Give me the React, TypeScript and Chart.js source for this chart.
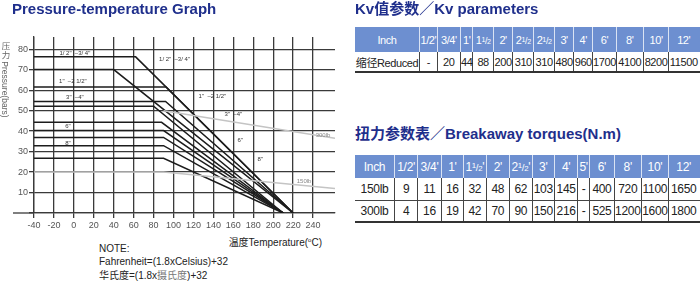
import React, { useEffect, useRef } from "react";
import { Chart, registerables } from "chart.js";

Chart.register(...registerables);

const FONT = '"Liberation Sans", Arial, "Noto Sans CJK SC", sans-serif';
const NAVY = "#1f2f8c";

// ---- Pressure-temperature graph data ----
const curvePressure = [76.3, 70.1, 61.6, 54.5, 52.2, 44.3, 40.3, 36.9, 32.9, 26.7];
const curveKneeTemp = [62, 40, 92.5, 92, 80, 88, 90, 90, 90, 90];
const curveZeroTemp = [220, 220, 220, 220, 210, 210, 210, 210, 210, 210];
const curveStartTemp = -40;

const class300Temps = [90, 262];
const class300Pressures = [50, 36.5];
const class150Temps = [-40, 90, 262];
const class150Pressures = [20, 20, 12];

const curveLabelTexts = ['1/ 2"  \u20133/ 4"', '1"  \u20132 1/2"', '3"  \u20134"', '6"', '8"', '1/ 2"  \u20133/ 4"', '1"  \u20132 1/2"', '3"  \u20134"', '6"', '8"', '300lb', '150lb'];
const curveLabelTemps = [1, -1, 1, -6, -6, 101, 139, 160, 167, 187, 250, 231];
const curveLabelPressures = [78.2, 64.4, 56.6, 42.4, 34.2, 75.2, 57.1, 48.3, 35.5, 26.3, 38, 15.6];
const curveLabelGray = [false, false, false, false, false, false, false, false, false, false, true, true];

// ---- Kv table ----
const kvSizes = ["1/2'", "3/4'", "1'", "1½", "2'", "2½", "2½", "3'", "4'", "6'", "8'", "10'", "12'"];
const kvReduced: (number | null)[] = [null, 20, 44, 88, 200, 310, 310, 480, 960, 1700, 4100, 8200, 11500];

// ---- Torque table ----
const torqueSizes = ["1/2'", "3/4'", "1'", "1½'", "2'", "2½'", "3'", "4'", "5'", "6'", "8'", "10'", "12'"];
const torque150: (number | null)[] = [9, 11, 16, 32, 48, 62, 103, 145, null, 400, 720, 1100, 1650];
const torque300: (number | null)[] = [4, 16, 19, 42, 70, 90, 150, 216, null, 525, 1200, 1600, 1800];

const kvColWidths = [65, 17.7, 23.3, 12.3, 20.7, 19.3, 21, 20.7, 19.3, 19, 23.4, 27.3, 25.3, 29];
const torqueColWidths = [40, 23.3, 23.4, 22.3, 22.7, 23.3, 22.7, 22.3, 23.3, 11.7, 25, 26.7, 27.6, 29];

function renderSize(label: string) {
  if (label.includes("½")) {
    const [whole, rest] = label.split("½");
    return (
      <span>
        {whole}
        <span style={{ fontSize: "0.65em", verticalAlign: "0.35em" }}>1</span>
        <span style={{ fontSize: "0.8em" }}>/</span>
        <span style={{ fontSize: "0.65em" }}>2</span>
        {rest}
      </span>
    );
  }
  return label;
}

const cellBase: React.CSSProperties = {
  boxSizing: "border-box",
  display: "flex",
  alignItems: "center",
  justifyContent: "center",
  whiteSpace: "nowrap",
  overflow: "visible",
  flex: "none",
};

function Row(props: { cells: React.ReactNode[]; widths: number[]; height: number; header?: boolean; bottom?: string; fontSize: number; spacing: number }) {
  const { cells, widths, height, header, bottom, fontSize, spacing } = props;
  return (
    <div style={{ display: "flex", height, borderBottom: bottom, boxSizing: "border-box", background: header ? "#6d8fd0" : "#fff" }}>
      {cells.map((c, i) => (
        <div
          key={i}
          style={{
            ...cellBase,
            width: widths[i],
            height: "100%",
            color: header ? "#fff" : "#222",
            fontSize,
            letterSpacing: spacing,
            borderRight: i < cells.length - 1 ? (header ? "1px solid rgba(255,255,255,0.75)" : "1px solid #444") : undefined,
          }}
        >
          {c}
        </div>
      ))}
    </div>
  );
}

const fmt = (v: number | null) => (v === null ? "-" : String(v));

function PTChart() {
  const ref = useRef<HTMLCanvasElement | null>(null);
  useEffect(() => {
    if (!ref.current) return;
    const curveSets = curvePressure.map((p, i) => ({
      data: [
        { x: curveStartTemp, y: p },
        { x: curveKneeTemp[i], y: p },
        { x: curveZeroTemp[i], y: 0 },
      ],
      borderColor: "#1c1c1c",
      borderWidth: 1.5,
      pointRadius: 0,
      fill: false,
    }));
    const graySets = [
      { data: class300Temps.map((t, i) => ({ x: t, y: class300Pressures[i] })) },
      { data: class150Temps.map((t, i) => ({ x: t, y: class150Pressures[i] })) },
    ].map((d) => ({ ...d, borderColor: "#c4c4c4", borderWidth: 1.5, pointRadius: 0, fill: false }));

    const labelPlugin = {
      id: "curveLabels",
      afterDatasetsDraw(chart: any) {
        const { ctx } = chart;
        const x = chart.scales.x;
        const y = chart.scales.y;
        ctx.save();
        ctx.strokeStyle = "#3a3a3a";
        ctx.lineWidth = 1.3;
        const y0 = y.getPixelForValue(0);
        ctx.beginPath();
        ctx.moveTo(x.left - 21, y0);
        ctx.lineTo(x.left, y0);
        ctx.stroke();
        ctx.font = '6px "Liberation Sans", Arial, sans-serif';
        ctx.textAlign = "center";
        ctx.textBaseline = "middle";
        curveLabelTexts.forEach((t, i) => {
          ctx.fillStyle = curveLabelGray[i] ? "#888" : "#333";
          ctx.fillText(t, x.getPixelForValue(curveLabelTemps[i]), y.getPixelForValue(curveLabelPressures[i]));
        });
        ctx.restore();
      },
    };

    const chart = new Chart(ref.current, {
      type: "line",
      data: { datasets: [...graySets, ...curveSets] as any },
      options: {
        animation: false,
        responsive: false,
        maintainAspectRatio: false,
        layout: { padding: { left: 0, right: 10, top: 37, bottom: 0 } },
        plugins: { legend: { display: false }, tooltip: { enabled: false } },
        elements: { line: { tension: 0 }, point: { radius: 0 } },
        scales: {
          x: {
            type: "linear",
            min: -40,
            max: 262,
            border: { display: true, color: "#3a3a3a", width: 1.3 },
            grid: { color: "#3a3a3a", lineWidth: 1.3, tickLength: 5, drawTicks: true },
            ticks: {
              stepSize: 20,
              includeBounds: false,
              autoSkip: false,
              maxRotation: 0,
              color: "#555",
              padding: 2,
              font: { size: 9, family: '"Liberation Sans", Arial, sans-serif' },
            },
            afterBuildTicks: (s: any) => {
              s.ticks = s.ticks.filter((t: any) => t.value <= 240);
            },
            afterFit: (s: any) => {
              s.height = 19;
            },
          },
          y: {
            min: 0,
            max: 86,
            border: { display: true, color: "#3a3a3a", width: 1.3 },
            grid: { color: "#3a3a3a", lineWidth: 1.3, tickLength: 5, drawTicks: true },
            ticks: {
              stepSize: 10,
              includeBounds: false,
              color: "#555",
              padding: 1,
              font: { size: 9, family: '"Liberation Sans", Arial, sans-serif' },
              callback: (v: any) => (v === 0 ? "" : String(v)),
            },
            afterFit: (s: any) => {
              s.width = 34;
            },
          },
        },
      },
      plugins: [labelPlugin],
    });
    return () => chart.destroy();
  }, []);
  return <canvas ref={ref} width={345} height={232} style={{ position: "absolute", left: 0, top: 0, width: 345, height: 232 }} />;
}

export default function App() {
  return (
    <div style={{ position: "absolute", left: 0, top: 0, width: 700, height: 284, overflow: "hidden", background: "#fff", fontFamily: FONT }}>
      <PTChart />
      <div style={{ position: "absolute", left: 12, top: 0, fontSize: 15, lineHeight: "18px", fontWeight: "bold", color: NAVY, whiteSpace: "nowrap" }}>
        Pressure-temperature Graph
      </div>
      <div style={{ position: "absolute", left: 0, top: 42, width: 10, writingMode: "vertical-rl", fontSize: 8.5, lineHeight: "10px", color: "#666", whiteSpace: "nowrap" }}>
        压力 Pressure(bars)
      </div>
      <div style={{ position: "absolute", left: 212, top: 233, width: 110, textAlign: "right", fontSize: 10, lineHeight: "14px", color: "#222", whiteSpace: "nowrap" }}>
        温度Temperature(<span style={{ fontSize: 6, verticalAlign: "0.6em" }}>o</span>C)
      </div>
      <div style={{ position: "absolute", left: 99, top: 242, fontSize: 10, lineHeight: "13.3px", color: "#222", whiteSpace: "nowrap" }}>
        <div>NOTE:</div>
        <div>Fahrenheit=(1.8xCelsius)+32</div>
        <div>
          华氏度=(1.8x<span style={{ color: "#777" }}>摄氏度</span>)+32
        </div>
      </div>

      <div style={{ position: "absolute", left: 355, top: 0, fontSize: 15, lineHeight: "18px", fontWeight: "bold", color: NAVY, whiteSpace: "nowrap" }}>
        Kv值参数／Kv parameters
      </div>
      <div style={{ position: "absolute", left: 355, top: 27, width: 345 }}>
        <Row header widths={kvColWidths} height={25} fontSize={11} spacing={-0.4} cells={["Inch", ...kvSizes.map(renderSize)]} />
        <Row widths={kvColWidths} height={21} bottom="2px solid #333" fontSize={11} spacing={-0.4} cells={["缩径Reduced", ...kvReduced.map(fmt)]} />
      </div>

      <div style={{ position: "absolute", left: 355, top: 125, fontSize: 15, lineHeight: "18px", fontWeight: "bold", color: NAVY, whiteSpace: "nowrap" }}>
        扭力参数表／Breakaway torques(N.m)
      </div>
      <div style={{ position: "absolute", left: 355, top: 155, width: 345 }}>
        <Row header widths={torqueColWidths} height={23.3} fontSize={12} spacing={-0.3} cells={["Inch", ...torqueSizes.map(renderSize)]} />
        <Row widths={torqueColWidths} height={22.4} bottom="1px solid #444" fontSize={12} spacing={-0.3} cells={["150lb", ...torque150.map(fmt)]} />
        <Row widths={torqueColWidths} height={22.4} bottom="2px solid #333" fontSize={12} spacing={-0.3} cells={["300lb", ...torque300.map(fmt)]} />
      </div>
    </div>
  );
}
